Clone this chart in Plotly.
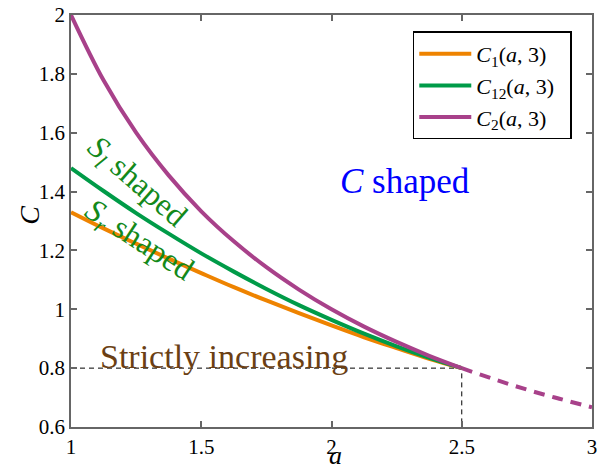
import plotly.graph_objects as go

# ---- data ----
a_grid = [1.0, 1.125, 1.25, 1.375, 1.5, 1.625, 1.75, 1.875, 2.0, 2.125, 2.25, 2.375, 2.5]
C1_vals = [1.33, 1.275, 1.223, 1.172, 1.123, 1.075, 1.030, 0.987, 0.945, 0.905, 0.868, 0.832, 0.80]
C12_vals = [1.48, 1.402, 1.327, 1.257, 1.190, 1.128, 1.069, 1.014, 0.964, 0.917, 0.874, 0.835, 0.80]
C2_vals = [2.0, 1.778, 1.6, 1.455, 1.333, 1.231, 1.143, 1.067, 1.0, 0.941, 0.889, 0.842, 0.80]

a_c2_dash = [2.5, 2.625, 2.75, 2.875, 3.0]
C2_dash_vals = [0.80, 0.762, 0.727, 0.696, 0.667]

guide_a = [1.0, 2.5, 2.5]
guide_C = [0.8, 0.8, 0.6]

x_ticks = [1, 1.5, 2, 2.5, 3]
x_ticklabels = ["1", "1.5", "2", "2.5", "3"]
y_ticks = [0.6, 0.8, 1.0, 1.2, 1.4, 1.6, 1.8, 2.0]
y_ticklabels = ["0.6", "0.8", "1", "1.2", "1.4", "1.6", "1.8", "2"]

ORANGE = "#EE8300"
GREEN = "#009B48"
MAGENTA = "#A8418A"
SERIF = "'Liberation Serif', 'DejaVu Serif', serif"

fig = go.Figure()

fig.add_trace(go.Scatter(x=guide_a, y=guide_C, mode="lines",
                         line=dict(color="black", width=1, dash="5px,4px"),
                         showlegend=False, hoverinfo="skip"))
fig.add_trace(go.Scatter(x=a_c2_dash, y=C2_dash_vals, mode="lines",
                         line=dict(color=MAGENTA, width=4, dash="11px,8px", shape="spline"),
                         showlegend=False))
fig.add_trace(go.Scatter(x=a_grid, y=C1_vals, mode="lines", name="<i>C</i><sub>1</sub>(<i>a</i>, 3)",
                         line=dict(color=ORANGE, width=4, shape="spline")))
fig.add_trace(go.Scatter(x=a_grid, y=C12_vals, mode="lines",
                         name="<i>C</i><sub>12</sub>(<i>a</i>, 3)&nbsp;&nbsp;",
                         line=dict(color=GREEN, width=4, shape="spline")))
fig.add_trace(go.Scatter(x=a_grid, y=C2_vals, mode="lines", name="<i>C</i><sub>2</sub>(<i>a</i>, 3)",
                         line=dict(color=MAGENTA, width=4, shape="spline")))

axis_common = dict(showline=True, linecolor="#666666", linewidth=1.5, mirror="ticks",
                   ticks="inside", ticklen=6, tickwidth=1.5, tickcolor="#666666",
                   showgrid=False, zeroline=False, automargin=False,
                   ticklabeloverflow="allow",
                   tickfont=dict(family=SERIF, size=21, color="black"))

fig.update_xaxes(range=[1, 3], tickvals=x_ticks, ticktext=x_ticklabels, **axis_common)
fig.update_yaxes(range=[0.6, 2.0], tickvals=y_ticks, ticktext=y_ticklabels, **axis_common)

annots = [
    dict(xref="x", yref="y", x=1.25, y=1.432, text="<i>S</i><sub><i>l</i></sub> shaped", textangle=41,
         font=dict(family=SERIF, size=32, color="#13891A")),
    dict(xref="x", yref="y", x=1.262, y=1.232, text="<i>S</i><sub><i>r</i></sub> shaped", textangle=33,
         font=dict(family=SERIF, size=32, color="#13891A")),
    dict(xref="x", yref="y", x=2.282, y=1.433, text="<i>C</i> shaped",
         font=dict(family=SERIF, size=35, color="#0000FF")),
    dict(xref="x", yref="y", x=1.587, y=0.838, text="Strictly increasing",
         font=dict(family=SERIF, size=34, color="#6B3F14")),
    dict(xref="paper", yref="paper", x=0.507, y=-0.107, xanchor="center", yanchor="bottom",
         borderpad=0,
         text="<i>a</i>", font=dict(family=SERIF, size=26, color="black")),
    dict(xref="paper", yref="paper", x=-0.079, y=0.515, xanchor="center", yanchor="middle",
         text="<i>C</i>", textangle=-90, font=dict(family=SERIF, size=28, color="black")),
]
for an in annots:
    fig.add_annotation(showarrow=False, **an)

fig.update_layout(
    width=597, height=472,
    margin=dict(l=71, r=5, t=15, b=45),
    plot_bgcolor="white", paper_bgcolor="white",
    legend=dict(x=0.656, y=0.96, xanchor="left", yanchor="top",
                bgcolor="white", bordercolor="black", borderwidth=1.5,
                font=dict(family=SERIF, size=22, color="black"),
                itemwidth=52),
)

fig.write_html("out.html")
